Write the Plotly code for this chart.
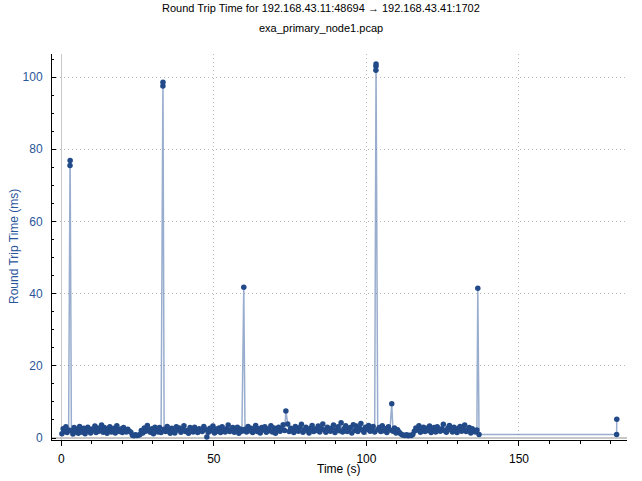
import plotly.graph_objects as go

# ---- data ----
time_seg1 = [0.2, 0.6, 1.0, 1.5, 1.9, 2.4, 2.85, 2.9, 3.3, 3.8, 4.2, 4.7, 5.1, 5.6, 6.0, 6.5, 6.9, 7.4, 7.8, 8.3,
             8.7, 9.2, 9.6, 10.1, 10.5, 11.0, 11.4, 11.9, 12.3, 12.8, 13.2, 13.7, 14.1, 14.6, 15.0, 15.5, 15.9, 16.4,
             16.8, 17.3, 17.7, 18.2, 18.6, 19.1, 19.5, 20.0, 20.4, 20.9, 21.3, 21.8, 22.3, 22.8]
rtt_seg1 = [1.2, 2.6, 1.8, 3.1, 1.5, 2.2, 75.5, 76.9, 2.0, 1.1, 2.9, 1.7, 2.4, 1.3, 3.2, 2.0, 1.6, 2.7, 1.2, 2.3,
            3.0, 1.8, 1.4, 2.5, 2.1, 3.3, 1.5, 2.8, 1.9, 2.4, 3.6, 1.6, 2.9, 2.2, 1.3, 2.6, 3.1, 1.7,
            2.0, 2.7, 1.4, 3.4, 2.3, 1.8, 2.5, 1.5, 2.9, 2.1, 1.7, 2.4, 1.9, 1.6]

time_gap1 = [23.3, 23.8, 24.3, 24.8, 25.3, 25.8]
rtt_gap1 = [0.8, 0.6, 0.9, 0.7, 0.8, 1.0]

time_seg2 = [26.2, 26.7, 27.2, 27.7, 28.2, 28.7, 29.2, 29.7, 30.2, 30.7, 31.2, 31.7, 32.2, 32.7, 33.3, 33.32, 33.7,
             34.2, 34.7, 35.2, 35.7,
             36.2, 36.7, 37.2, 37.7, 38.2, 38.7, 39.2, 39.7, 40.2, 40.7, 41.2, 41.7, 42.2, 42.7, 43.2, 43.7, 44.2,
             44.7, 45.2, 45.7,
             46.2, 46.7, 47.2, 47.7, 48.2, 48.7, 49.2, 49.7, 50.2, 50.7, 51.2, 51.7, 52.2, 52.7, 53.2, 53.7, 54.2,
             54.7, 55.2, 55.7,
             56.2, 56.7, 57.2, 57.7, 58.2, 58.7, 59.2, 59.8, 60.2, 60.7, 61.2, 61.7, 62.2, 62.7, 63.2, 63.7, 64.2,
             64.7, 65.2, 65.7,
             66.2, 66.7, 67.2, 67.7, 68.2, 68.7, 69.2, 69.7, 70.2, 70.7, 71.2, 71.7, 72.2, 72.7, 73.2, 73.6, 74.2,
             74.7, 75.2, 75.7,
             76.2, 76.7, 77.2, 77.7, 78.2, 78.7, 79.2, 79.7, 80.2, 80.7, 81.2, 81.7, 82.2, 82.7, 83.2, 83.7, 84.2,
             84.7, 85.2, 85.7,
             86.2, 86.7, 87.2, 87.7, 88.2, 88.7, 89.2, 89.7, 90.2, 90.7, 91.2, 91.7, 92.2, 92.7, 93.2, 93.7, 94.2,
             94.7, 95.2, 95.7,
             96.2, 96.7, 97.2, 97.7, 98.2, 98.7, 99.2, 99.7, 100.2, 100.7, 101.2, 101.7, 102.2, 102.7, 103.1, 103.12,
             103.15, 103.7, 104.2, 104.7, 105.2, 105.7,
             106.2, 106.7, 107.2, 107.7, 108.3, 108.7, 109.2, 109.7, 110.2, 110.7, 111.2, 111.7]
rtt_seg2 = [2.1, 1.4, 2.8, 1.9, 3.5, 2.3, 1.6, 2.6, 1.2, 3.0, 2.2, 1.7, 2.9, 1.5, 97.5, 98.6, 2.4,
            1.8, 3.2, 2.0, 1.3,
            2.7, 1.9, 1.4, 3.1, 2.2, 2.8, 1.6, 2.4, 3.4, 1.8, 2.1, 1.3, 2.9, 2.5, 1.7, 3.0, 2.0,
            1.5, 2.6, 2.3,
            1.8, 3.2, 2.4, 0.3, 1.6, 2.7, 2.0, 3.3, 1.4, 2.5, 1.9, 2.8, 1.5, 3.1, 2.2, 1.7, 2.6,
            3.6, 1.8, 2.3,
            2.9, 1.6, 2.1, 3.0, 1.3, 2.5, 1.9, 41.8, 2.4, 1.7, 3.2, 2.0, 2.7, 1.5, 2.3, 3.5, 1.8,
            2.6, 1.4, 2.9,
            2.2, 3.1, 1.6, 2.5, 2.0, 3.4, 1.7, 2.8, 1.3, 2.4, 3.0, 1.9, 2.6, 3.7, 2.1, 7.5, 3.9,
            1.8, 2.7, 2.2,
            1.5, 3.2, 2.4, 1.9, 2.9, 3.8, 1.6, 2.3, 3.0, 2.0, 1.4, 2.7, 3.5, 1.8, 2.5, 2.1, 3.3,
            1.7, 2.6, 3.9,
            2.2, 1.6, 3.0, 2.4, 1.9, 2.8, 3.6, 1.5, 2.3, 3.1, 2.0, 4.2, 1.7, 2.6, 3.4, 1.8, 2.5,
            2.9, 1.4, 3.7,
            2.1, 3.3, 1.8, 2.7, 4.0, 2.2, 1.6, 3.0, 2.4, 3.5, 1.9, 2.6, 3.2, 1.7, 101.9, 103.0,
            103.6, 2.3, 2.9, 1.8, 3.4, 2.0,
            2.6, 1.5, 3.1, 2.2, 9.5, 1.9, 2.8, 1.4, 2.3, 1.7, 1.2, 0.9]

time_gap2 = [112.2, 112.7, 113.2, 113.7, 114.2, 114.7, 115.2]
rtt_gap2 = [0.8, 0.7, 0.9, 0.6, 0.8, 0.7, 1.0]

time_seg3 = [115.7, 116.2, 116.7, 117.2, 117.7, 118.2, 118.7, 119.2, 119.7, 120.2, 120.7, 121.2, 121.7, 122.2,
             122.7, 123.2, 123.7, 124.2, 124.7, 125.2, 125.7, 126.2, 126.7, 127.2, 127.7, 128.2, 128.7, 129.2,
             129.7, 130.2, 130.7, 131.2, 131.7, 132.2, 132.7, 133.2, 133.7, 134.2, 134.7, 135.2, 135.7, 136.2,
             136.5, 136.9, 182.0, 182.05]
rtt_seg3 = [1.9, 2.8, 2.2, 3.4, 1.6, 2.5, 3.0, 1.8, 2.7, 2.1, 3.3, 1.5, 2.4, 2.9,
            1.7, 3.1, 2.3, 1.9, 2.6, 3.8, 2.0, 1.6, 2.8, 3.5, 2.2, 1.7, 3.0, 2.4,
            1.5, 2.7, 3.2, 1.9, 2.5, 3.6, 1.8, 2.3, 2.9, 1.4, 2.6, 2.0, 1.7, 2.2,
            41.5, 1.0, 1.0, 5.2]

x_ticks = [0, 50, 100, 150]
y_ticks = [0, 20, 40, 60, 80, 100]

title_text = "Round Trip Time for 192.168.43.11:48694 \u2192 192.168.43.41:1702"
subtitle_text = "exa_primary_node1.pcap"
x_title = "Time (s)"
y_title = "Round Trip Time (ms)"

time_s = time_seg1 + time_gap1 + time_seg2 + time_gap2 + time_seg3
rtt_ms = rtt_seg1 + rtt_gap1 + rtt_seg2 + rtt_gap2 + rtt_seg3

# ---- style ----
FONT = "Liberation Sans"
BLUE_TXT = "#2a569a"
MARK = "#224a88"
LINE = "rgba(70,105,165,0.55)"
GRID = "#b8b8b8"

fig = go.Figure(go.Scatter(
    x=time_s, y=rtt_ms, mode="lines+markers",
    line=dict(color=LINE, width=1.5),
    marker=dict(color=MARK, size=5.5, line=dict(width=0)),
    showlegend=False, hoverinfo="skip"))

L, R, T, B = 52, 15, 54, 41
W, H = 642, 481
pw, ph = W - L - R, H - T - B


def py(ypix):
    return (H - B - ypix) / ph


def px(xpix):
    return (xpix - L) / pw


fig.update_layout(
    width=W, height=H,
    margin=dict(l=L, r=R, t=T, b=B, pad=0),
    paper_bgcolor="white", plot_bgcolor="white",
    font=dict(family=FONT, size=12, color="black"),
    xaxis=dict(
        range=[-3.05, 185.4], tickvals=x_ticks, ticktext=[str(v) for v in x_ticks],
        showline=True, linecolor="black", linewidth=1,
        ticks="outside", ticklen=5, tickcolor="black",
        minor=dict(dtick=10, ticks="outside", ticklen=3, tickcolor="black", showgrid=False),
        showgrid=True, gridcolor=GRID, griddash="1px,3px", gridwidth=1,
        zeroline=True, zerolinecolor="#c8c8c8", zerolinewidth=1.5,
        tickfont=dict(family=FONT, size=12, color="black"),
        ticklabelstandoff=3,
    ),
    yaxis=dict(
        range=[-0.55, 106.4], tickvals=y_ticks, ticktext=[str(v) for v in y_ticks],
        showline=True, linecolor="black", linewidth=1,
        ticks="inside", ticklen=4, tickcolor="black",
        minor=dict(dtick=5, ticks="inside", ticklen=2, tickcolor="black", showgrid=False),
        showgrid=True, gridcolor=GRID, griddash="1px,3px", gridwidth=1,
        zeroline=True, zerolinecolor="#c8c8c8", zerolinewidth=1.5,
        tickfont=dict(family=FONT, size=12, color=BLUE_TXT),
        ticklabelstandoff=6,
    ),
)

fig.add_annotation(text=title_text, xref="paper", yref="paper", x=px(W / 2), y=py(8),
                   showarrow=False, xanchor="center", yanchor="middle",
                   font=dict(family=FONT, size=11, color="black"))
fig.add_annotation(text=subtitle_text, xref="paper", yref="paper", x=px(W / 2), y=py(28),
                   showarrow=False, xanchor="center", yanchor="middle",
                   font=dict(family=FONT, size=11, color="black"))
fig.add_annotation(text=x_title, xref="paper", yref="paper", x=px(339), y=py(469),
                   showarrow=False, xanchor="center", yanchor="middle",
                   font=dict(family=FONT, size=12, color="black"))
fig.add_annotation(text=y_title, xref="paper", yref="paper", x=px(14), y=py(247),
                   showarrow=False, xanchor="center", yanchor="middle", textangle=-90,
                   font=dict(family=FONT, size=12, color=BLUE_TXT))

fig.write_html("out.html", config={"displayModeBar": False, "staticPlot": True},
               post_script="document.body.style.margin='0';document.body.style.overflow='hidden';")
